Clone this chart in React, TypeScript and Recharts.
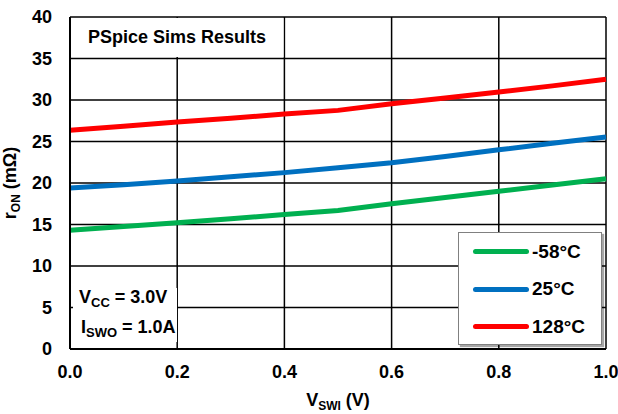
import React from "react";
import { LineChart, Line, XAxis, YAxis, CartesianGrid, Legend, Label } from "recharts";

// V_SWI sweep (V)
const vswi = [0, 0.1, 0.2, 0.3, 0.4, 0.5, 0.6, 0.7, 0.8, 0.9, 1.0];
// r_ON (mOhm) per temperature
const ronMinus58 = [14.3, 14.75, 15.2, 15.7, 16.2, 16.7, 17.5, 18.25, 19.0, 19.75, 20.5];
const ron25 = [19.4, 19.8, 20.25, 20.75, 21.25, 21.85, 22.45, 23.2, 24.0, 24.8, 25.55];
const ron128 = [26.35, 26.85, 27.35, 27.8, 28.3, 28.75, 29.56, 30.25, 30.96, 31.7, 32.5];

const xTicks = [0, 0.2, 0.4, 0.6, 0.8, 1.0];
const yTicks = [0, 5, 10, 15, 20, 25, 30, 35, 40];

const seriesNames = ["-58°C", "25°C", "128°C"];
const seriesColors = ["#00b050", "#0070c0", "#ff0000"];

const data = vswi.map((v, i) => ({
  v,
  cold: ronMinus58[i],
  room: ron25[i],
  hot: ron128[i],
}));

const FONT = "'Liberation Sans', Arial, Helvetica, sans-serif";
const tickStyle = { fill: "#000", fontSize: 18, fontWeight: 700, fontFamily: FONT };

const LegendBox = ({ payload }: any) => {
  // keep the series order, recharts sorts the payload by name
  const items = [...(payload || [])].sort(
    (a: any, b: any) => seriesNames.indexOf(a.value) - seriesNames.indexOf(b.value)
  );
  return (
    <div
      style={{
        width: 144,
        height: 113,
        boxSizing: "border-box",
        background: "#fff",
        border: "1px solid #808080",
        boxShadow: "2px 2px 1px rgba(0,0,0,0.35)",
        paddingTop: 0,
        fontFamily: FONT,
      }}
    >
      {items.map((p: any) => (
        <div key={p.value} style={{ display: "flex", alignItems: "center", height: 37.5 }}>
          <span
            style={{
              display: "inline-block",
              width: 56,
              height: 5,
              borderRadius: 3,
              background: p.color,
              marginLeft: 14,
              marginRight: 3,
            }}
          />
          <span style={{ fontSize: 19, fontWeight: 700, color: "#000" }}>{p.value}</span>
        </div>
      ))}
    </div>
  );
};

const XTitle = ({ viewBox }: any) => {
  const { x, y, width } = viewBox;
  return (
    <text x={x + width / 2} y={y + 57} textAnchor="middle" style={tickStyle}>
      V<tspan fontSize={12} dy={4}>SWI</tspan>
      <tspan dy={-4}> (V)</tspan>
    </text>
  );
};

const YTitle = ({ viewBox }: any) => {
  const { y, height } = viewBox;
  const cx = 16;
  const cy = y + height / 2;
  return (
    <text x={cx} y={cy} textAnchor="middle" transform={`rotate(-90 ${cx} ${cy})`} style={tickStyle}>
      r<tspan fontSize={12} dy={4}>ON</tspan>
      <tspan dy={-4}> (mΩ)</tspan>
    </text>
  );
};

export default function App() {
  return (
    <div style={{ position: "absolute", left: 0, top: 0, width: 618, height: 414, background: "#fff" }}>
      <LineChart width={618} height={414} data={data} margin={{ top: 17, right: 12, bottom: 25, left: 0 }}>
        <CartesianGrid stroke="#000" strokeWidth={1.5} />
        <XAxis
          dataKey="v"
          type="number"
          domain={[0, 1]}
          ticks={xTicks}
          tickFormatter={(v: number) => v.toFixed(1)}
          tick={tickStyle}
          tickLine={false}
          tickSize={0}
          tickMargin={16}
          height={40}
          axisLine={{ stroke: "#000", strokeWidth: 2 }}
        >
          <Label content={XTitle} />
        </XAxis>
        <YAxis
          type="number"
          domain={[0, 40]}
          ticks={yTicks}
          tick={tickStyle}
          tickLine={false}
          tickSize={0}
          tickMargin={18}
          width={70}
          axisLine={{ stroke: "#000", strokeWidth: 2 }}
        >
          <Label content={YTitle} />
        </YAxis>
        <Legend
          layout="vertical"
          align="center"
          verticalAlign="middle"
          content={<LegendBox />}
          wrapperStyle={{ position: "absolute", left: 458, top: 232, width: 144, height: 113 }}
        />
        <Line type="linear" dataKey="cold" name={seriesNames[0]} stroke={seriesColors[0]} strokeWidth={5} dot={false} isAnimationActive={false} />
        <Line type="linear" dataKey="room" name={seriesNames[1]} stroke={seriesColors[1]} strokeWidth={5} dot={false} isAnimationActive={false} />
        <Line type="linear" dataKey="hot" name={seriesNames[2]} stroke={seriesColors[2]} strokeWidth={5} dot={false} isAnimationActive={false} />
      </LineChart>

      {/* annotation boxes sitting on the plot */}
      <svg width={618} height={414} style={{ position: "absolute", left: 0, top: 0, pointerEvents: "none" }}>
        <rect x={71.5} y={18} width={212} height={39} fill="#fff" />
        <text x={177} y={43} textAnchor="middle" style={tickStyle}>
          PSpice Sims Results
        </text>
        <rect x={73} y={288} width={104} height={54} fill="#fff" />
        <text x={79} y={303} style={tickStyle}>
          V<tspan fontSize={13} dy={4}>CC</tspan>
          <tspan dy={-4}> = 3.0V</tspan>
        </text>
        <text x={81} y={333} style={tickStyle}>
          I<tspan fontSize={13} dy={4}>SWO</tspan>
          <tspan dy={-4}> = 1.0A</tspan>
        </text>
      </svg>
    </div>
  );
}
